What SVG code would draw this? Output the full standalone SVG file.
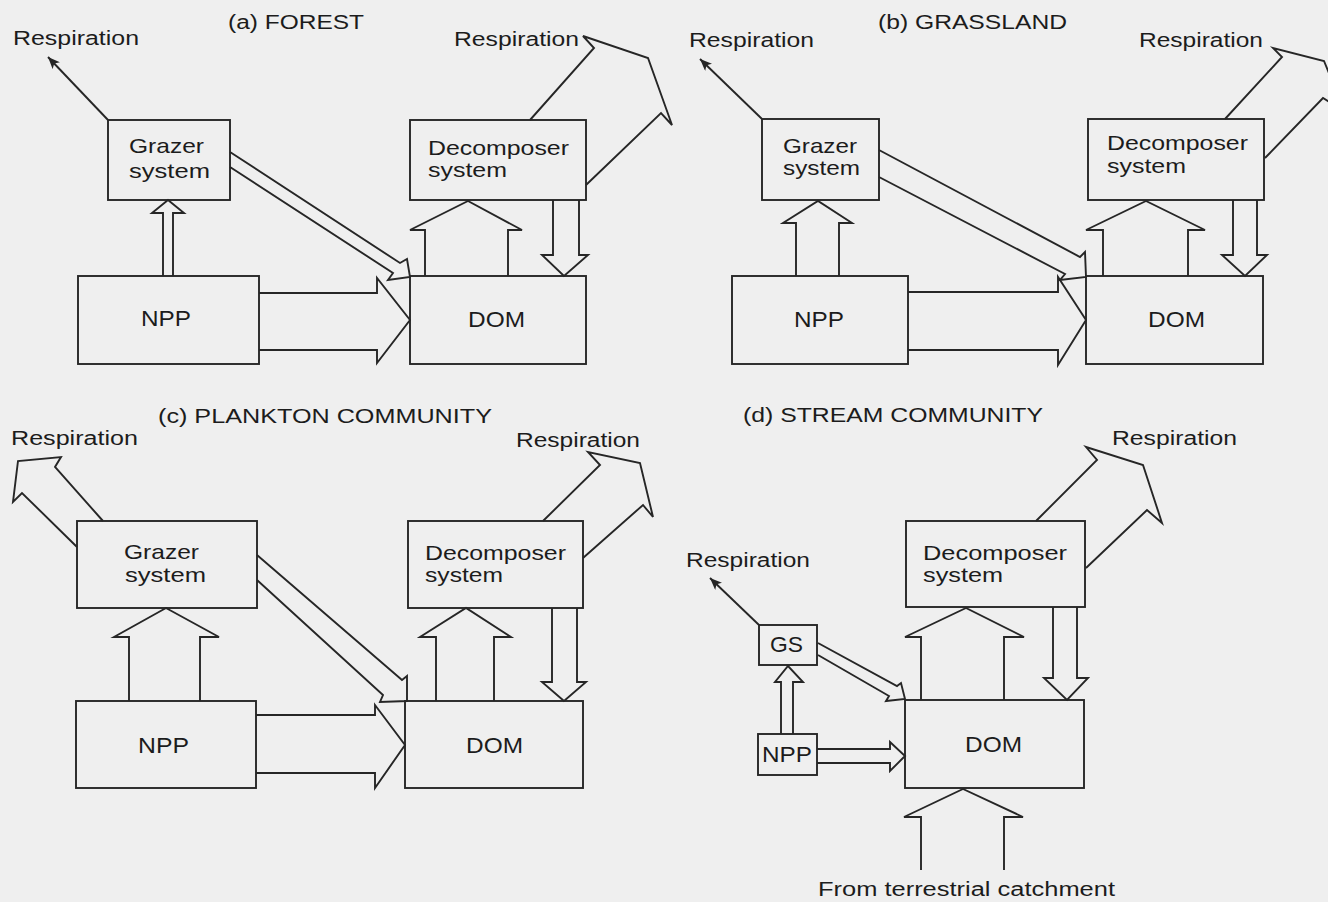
<svg xmlns="http://www.w3.org/2000/svg" width="1328" height="902" viewBox="0 0 1328 902">
<style>
.bg{fill:#efefef}
.box{fill:none;stroke:#262626;stroke-width:1.9}
.ar{fill:none;stroke:#262626;stroke-width:1.9;stroke-linejoin:miter}
.thin{fill:none;stroke:#262626;stroke-width:1.9}
.t{font-family:"Liberation Sans",Arial,Helvetica,sans-serif;fill:#1c1c1c;font-size:20px}
.lb{font-size:21px}
.big{font-size:22px}
</style>
<defs>
<marker id="ah" viewBox="0 0 12 10" refX="12" refY="5" markerWidth="12" markerHeight="10" markerUnits="userSpaceOnUse" orient="auto">
<path d="M0,0 L12,5 L0,10 L3,5 z" fill="#262626"/>
</marker>
</defs>
<rect class="bg" x="0" y="0" width="1328" height="902"/>

<g id="connectors">
<!-- (a) -->
<line class="thin" x1="108" y1="120" x2="48" y2="57" marker-end="url(#ah)"/>
<polyline class="ar" points="163,276 163,213 152,213 168,200 184,213 173,213 173,276"/>
<polyline class="ar" points="259,293 377,293 377,278 410,320 377,363 377,350 259,350"/>
<polyline class="ar" points="230,152 400,263 407,259 410,277 388,280 393,273 230,167"/>
<polyline class="ar" points="425,276 425,230 410,230 468,201 522,230 508,230 508,276"/>
<polyline class="ar" points="553,200 553,255 542,255 564,276 588,255 579,255 579,200"/>
<polyline class="ar" points="530,120 594,48 583,36 648,58 672,125 661,113 586,185"/>
<!-- (b) -->
<line class="thin" x1="762" y1="119" x2="700" y2="59" marker-end="url(#ah)"/>
<polyline class="ar" points="796,276 796,223 783,223 818,201 852,223 839,223 839,276"/>
<polyline class="ar" points="908,292 1058,292 1058,277 1086,320 1058,365 1058,350 908,350"/>
<polyline class="ar" points="879,150 1080,257 1085,252 1086,277 1060,280 1065,274 879,177"/>
<polyline class="ar" points="1103,276 1103,230 1086,230 1146,201 1205,230 1188,230 1188,276"/>
<polyline class="ar" points="1233,200 1233,255 1222,255 1245,276 1267,255 1257,255 1257,200"/>
<polyline class="ar" points="1225,119 1282,57 1273,48 1324,61 1345,112 1323,98 1265,158"/>
<!-- (c) -->
<polyline class="ar" points="103,521 55,467 61,457 18,461 13,502 22,493 77,547"/>
<polyline class="ar" points="129,701 129,637 114,637 166,608 219,637 200,637 200,701"/>
<polyline class="ar" points="256,715 375,715 375,705 405,745 375,788 375,773 256,773"/>
<polyline class="ar" points="257,555 402,680 407,676 407,701 380,702 383,695 257,580"/>
<polyline class="ar" points="436,701 436,637 420,637 466,608 511,637 494,637 494,701"/>
<polyline class="ar" points="552,608 552,682 542,682 564,701 586,682 577,682 577,608"/>
<polyline class="ar" points="543,521 600,465 588,452 640,463 653,517 643,505 583,558"/>
<!-- (d) -->
<line class="thin" x1="759" y1="625" x2="710" y2="578" marker-end="url(#ah)"/>
<polyline class="ar" points="781,734 781,682 775,682 788,666 803,682 793,682 793,734"/>
<polyline class="ar" points="817,749 890,749 890,742 905,756 890,771 890,763 817,763"/>
<polyline class="ar" points="818,643 897,686 901,683 905,699 886,701 889,696 818,655"/>
<polyline class="ar" points="921,700 921,637 905,637 966,608 1024,637 1004,637 1004,700"/>
<polyline class="ar" points="1053,607 1053,678 1044,678 1067,700 1088,678 1077,678 1077,607"/>
<polyline class="ar" points="1036,521 1097,460 1086,447 1143,465 1162,523 1147,510 1086,568"/>
<polyline class="ar" points="921,870 921,817 904,817 963,789 1023,817 1004,817 1004,870"/>
</g>

<g id="labels">
<text class="t" x="228" y="29" textLength="136" lengthAdjust="spacingAndGlyphs">(a) FOREST</text>
<text class="t" x="13" y="45" textLength="126" lengthAdjust="spacingAndGlyphs">Respiration</text>
<text class="t" x="454" y="46" textLength="125" lengthAdjust="spacingAndGlyphs">Respiration</text>
<text class="t" x="878" y="29" textLength="189" lengthAdjust="spacingAndGlyphs">(b) GRASSLAND</text>
<text class="t" x="689" y="47" textLength="125" lengthAdjust="spacingAndGlyphs">Respiration</text>
<text class="t" x="1139" y="47" textLength="124" lengthAdjust="spacingAndGlyphs">Respiration</text>
<text class="t" x="158" y="423" textLength="334" lengthAdjust="spacingAndGlyphs">(c) PLANKTON COMMUNITY</text>
<text class="t" x="11" y="445" textLength="127" lengthAdjust="spacingAndGlyphs">Respiration</text>
<text class="t" x="516" y="447" textLength="124" lengthAdjust="spacingAndGlyphs">Respiration</text>
<text class="t" x="743" y="422" textLength="300" lengthAdjust="spacingAndGlyphs">(d) STREAM COMMUNITY</text>
<text class="t" x="1112" y="445" textLength="125" lengthAdjust="spacingAndGlyphs">Respiration</text>
<text class="t" x="686" y="567" textLength="124" lengthAdjust="spacingAndGlyphs">Respiration</text>
<text class="t" x="818" y="896" textLength="297" lengthAdjust="spacingAndGlyphs">From terrestrial catchment</text>
</g>

<g id="a-grazer"><rect class="box" x="108" y="120" width="122" height="80"/>
<text class="t lb" x="129" y="153" textLength="75" lengthAdjust="spacingAndGlyphs">Grazer</text>
<text class="t lb" x="129" y="178" textLength="81" lengthAdjust="spacingAndGlyphs">system</text></g>
<g id="a-decomposer"><rect class="box" x="410" y="120" width="176" height="80"/>
<text class="t lb" x="428" y="155" textLength="141" lengthAdjust="spacingAndGlyphs">Decomposer</text>
<text class="t lb" x="428" y="177" textLength="79" lengthAdjust="spacingAndGlyphs">system</text></g>
<g id="a-npp"><rect class="box" x="78" y="276" width="181" height="88"/>
<text class="t big" x="141" y="326" textLength="50" lengthAdjust="spacingAndGlyphs">NPP</text></g>
<g id="a-dom"><rect class="box" x="410" y="276" width="176" height="88"/>
<text class="t big" x="468" y="327" textLength="57" lengthAdjust="spacingAndGlyphs">DOM</text></g>

<g id="b-grazer"><rect class="box" x="762" y="119" width="117" height="81"/>
<text class="t lb" x="783" y="153" textLength="74" lengthAdjust="spacingAndGlyphs">Grazer</text>
<text class="t lb" x="783" y="175" textLength="77" lengthAdjust="spacingAndGlyphs">system</text></g>
<g id="b-decomposer"><rect class="box" x="1088" y="119" width="176" height="81"/>
<text class="t lb" x="1107" y="150" textLength="141" lengthAdjust="spacingAndGlyphs">Decomposer</text>
<text class="t lb" x="1107" y="173" textLength="79" lengthAdjust="spacingAndGlyphs">system</text></g>
<g id="b-npp"><rect class="box" x="732" y="276" width="176" height="88"/>
<text class="t big" x="794" y="327" textLength="50" lengthAdjust="spacingAndGlyphs">NPP</text></g>
<g id="b-dom"><rect class="box" x="1086" y="276" width="177" height="88"/>
<text class="t big" x="1148" y="327" textLength="57" lengthAdjust="spacingAndGlyphs">DOM</text></g>

<g id="c-grazer"><rect class="box" x="77" y="521" width="180" height="87"/>
<text class="t lb" x="124" y="559" textLength="75" lengthAdjust="spacingAndGlyphs">Grazer</text>
<text class="t lb" x="125" y="582" textLength="81" lengthAdjust="spacingAndGlyphs">system</text></g>
<g id="c-decomposer"><rect class="box" x="408" y="521" width="175" height="87"/>
<text class="t lb" x="425" y="560" textLength="141" lengthAdjust="spacingAndGlyphs">Decomposer</text>
<text class="t lb" x="425" y="582" textLength="78" lengthAdjust="spacingAndGlyphs">system</text></g>
<g id="c-npp"><rect class="box" x="76" y="701" width="180" height="87"/>
<text class="t big" x="138" y="753" textLength="51" lengthAdjust="spacingAndGlyphs">NPP</text></g>
<g id="c-dom"><rect class="box" x="405" y="701" width="178" height="87"/>
<text class="t big" x="466" y="753" textLength="57" lengthAdjust="spacingAndGlyphs">DOM</text></g>

<g id="d-gs"><rect class="box" x="759" y="625" width="58" height="40"/>
<text class="t big" x="770" y="652" textLength="33" lengthAdjust="spacingAndGlyphs">GS</text></g>
<g id="d-npp"><rect class="box" x="758" y="734" width="59" height="41"/>
<text class="t big" x="762" y="762" textLength="50" lengthAdjust="spacingAndGlyphs">NPP</text></g>
<g id="d-decomposer"><rect class="box" x="906" y="521" width="179" height="86"/>
<text class="t lb" x="923" y="560" textLength="144" lengthAdjust="spacingAndGlyphs">Decomposer</text>
<text class="t lb" x="923" y="582" textLength="80" lengthAdjust="spacingAndGlyphs">system</text></g>
<g id="d-dom"><rect class="box" x="905" y="700" width="179" height="88"/>
<text class="t big" x="965" y="752" textLength="57" lengthAdjust="spacingAndGlyphs">DOM</text></g>
</svg>
